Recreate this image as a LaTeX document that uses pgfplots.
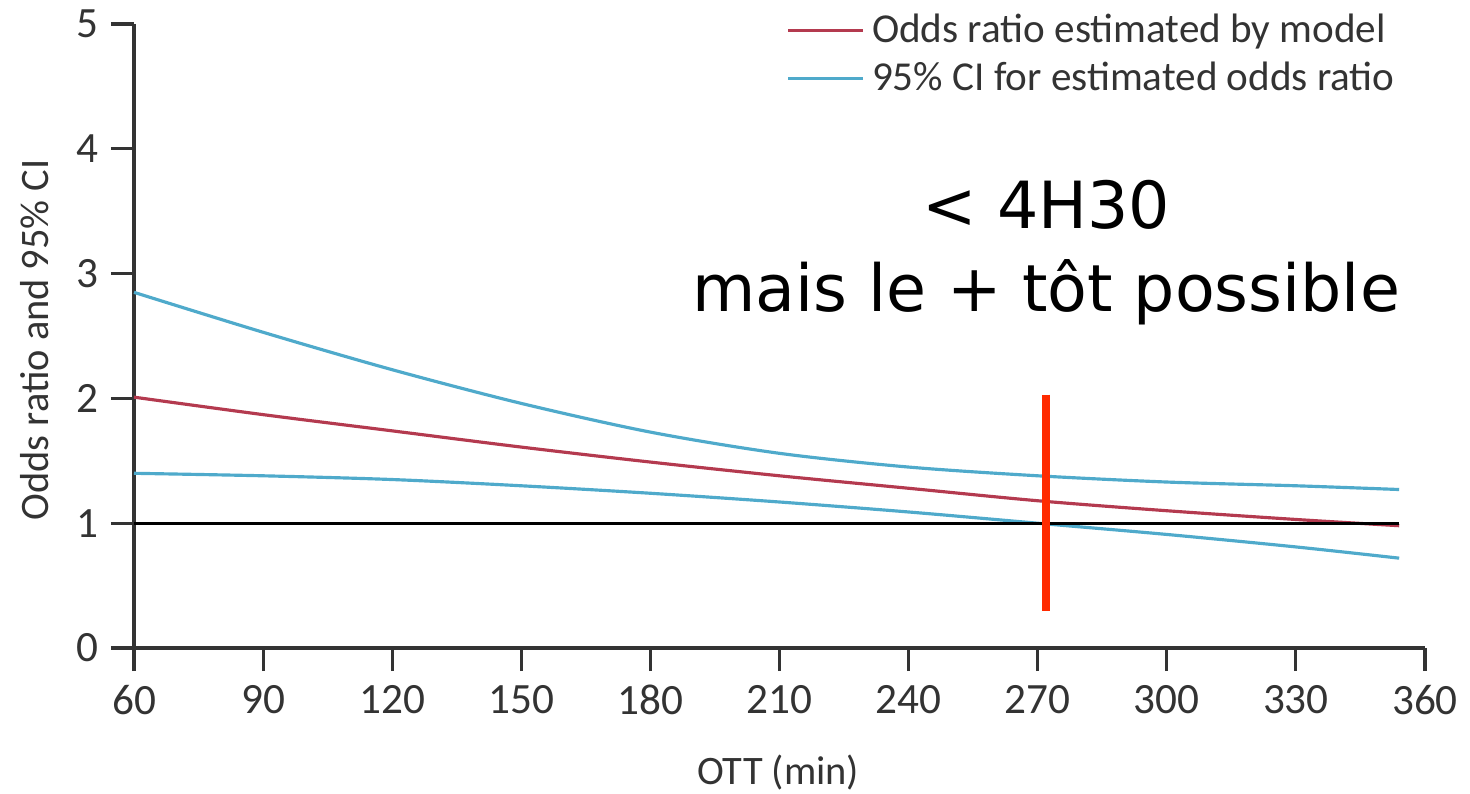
\documentclass[border=0pt]{standalone}
\usepackage{fontspec}
\setmainfont{Carlito}
\newfontfamily\bigfont{DejaVu Sans}
\usepackage{pgfplots}
\pgfplotsset{compat=1.18}
\usepackage{pgfplotstable}

\definecolor{orred}{HTML}{B43A4F}
\definecolor{ciblue}{HTML}{4FAACB}
\definecolor{markred}{HTML}{FF2A00}
\definecolor{axgray}{HTML}{333333}

% OTT, odds ratio, upper CI, lower CI
\pgfplotstableread{
ott  or    up    lo
60   2.01  2.85  1.40
90   1.87  2.53  1.38
120  1.74  2.23  1.35
150  1.61  1.96  1.30
180  1.49  1.73  1.24
210  1.38  1.56  1.17
240  1.28  1.45  1.09
270  1.18  1.38  1.00
300  1.10  1.33  0.91
330  1.03  1.30  0.81
354  0.98  1.27  0.72
}\ottdata

\begin{document}
\begin{tikzpicture}
\useasboundingbox (-1.34cm,-1.45cm) rectangle (13.36cm,6.48cm);
\begin{axis}[
    scale only axis,
    width=12.91cm, height=6.24cm,
    xmin=60, xmax=360, ymin=0, ymax=5,
    xtick={60,90,...,360}, ytick={0,1,...,5},
    axis x line=bottom, axis y line=left,
    axis line style={-, draw=axgray, line width=0.9pt},
    tick style={draw=axgray, line width=0.9pt},
    tick align=outside, major tick length=0.23cm,
    ticklabel style={font=\fontsize{12.3}{14}\selectfont, text=axgray},
    /pgf/number format/assume math mode=true,
    xticklabel style={yshift=-0.02cm},
    xlabel={OTT (min)}, ylabel={Odds ratio and 95\% CI},
    label style={font=\fontsize{11.5}{13}\selectfont, text=axgray},
    xlabel style={at={(axis description cs:0.499,-0.199)}, anchor=center},
    ylabel style={at={(axis description cs:-0.077,0.494)}, anchor=center, rotate=0},
    legend style={draw=none, fill=none, at={(axis description cs:0.497,1.04)}, anchor=north west,
        font=\fontsize{11.7}{13}\selectfont, text=axgray, row sep=0pt},
    legend cell align=left,
    legend image code/.code={\draw[#1] (0cm,0cm) -- (0.75cm,0cm);},
    clip=false,
]
\addplot[orred, line width=0.9pt, smooth] table[x=ott, y=or] {\ottdata};
\addlegendentry{Odds ratio estimated by model}
\addplot[ciblue, line width=0.9pt, smooth] table[x=ott, y=up] {\ottdata};
\addlegendentry{95\% CI for estimated odds ratio}
\addplot[ciblue, line width=0.9pt, smooth, forget plot] table[x=ott, y=lo] {\ottdata};
\addplot[black, line width=0.8pt, forget plot] coordinates {(60,1) (354,1)};
\addplot[markred, line width=2.2pt, forget plot] coordinates {(272,2.03) (272,0.30)};
\node[font=\bigfont\fontsize{18.5}{20}\selectfont, anchor=center] at (axis cs:272,3.55) {< 4H30};
\node[font=\bigfont\fontsize{18.5}{20}\selectfont, anchor=center] at (axis cs:272,2.85) {mais le + tôt possible};
\end{axis}
\end{tikzpicture}
\end{document}
